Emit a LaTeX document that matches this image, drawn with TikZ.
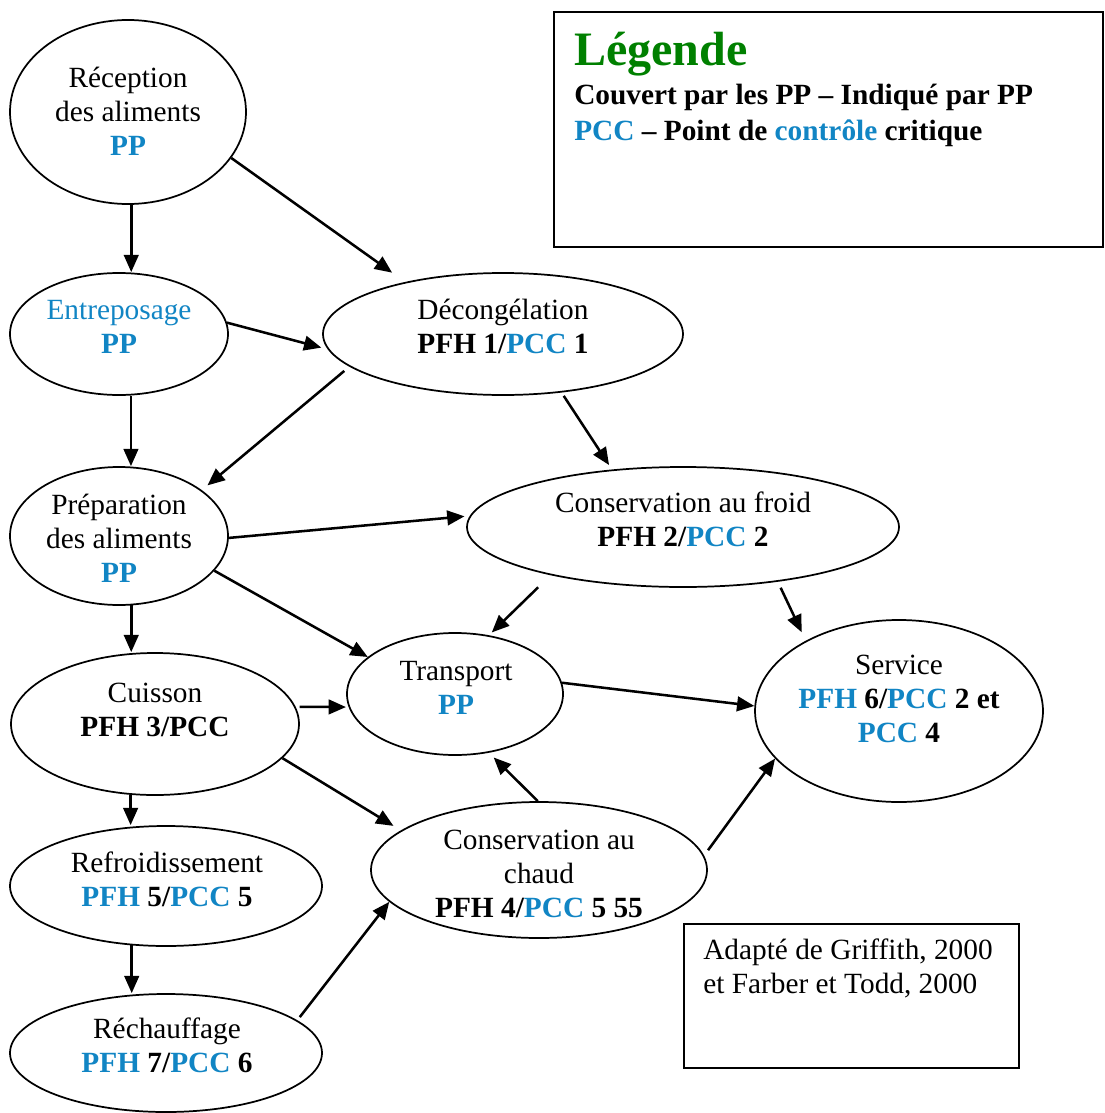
\documentclass[tikz,border=0pt]{standalone}
\usepackage{fontspec}
\setmainfont{Liberation Serif}
\usetikzlibrary{arrows.meta, shapes.geometric}
\definecolor{pcc}{RGB}{17,133,196}
\definecolor{leggreen}{RGB}{0,128,0}
\tikzset{
  ell/.style={draw, ellipse, line width=1.3pt, inner sep=0pt},
  txt/.style={align=center, font=\fontsize{22}{25.5}\selectfont, inner sep=0pt},
  arr/.style={-{Triangle[length=13pt,width=11pt]}, line width=1.9pt},
  frame/.style={draw, line width=1.5pt, inner sep=0pt, anchor=north west},
  legtxt/.style={anchor=base west, inner sep=0pt, font=\fontsize{22}{25.5}\selectfont\bfseries}
}
\begin{document}
\begin{tikzpicture}[x=0.75pt, y=-0.75pt]
\useasboundingbox (0,0) rectangle (1104,1113);

% ellipses
\node[ell, minimum width=177pt,   minimum height=138pt]  (rec)   at (128,112)  {};
\node[ell, minimum width=163.5pt, minimum height=91.5pt] (ent)   at (119,334)  {};
\node[ell, minimum width=270pt,   minimum height=91.5pt] (dec)   at (503,334)  {};
\node[ell, minimum width=163.5pt, minimum height=103.5pt](prep)  at (119,536)  {};
\node[ell, minimum width=324pt,   minimum height=90pt]   (froid) at (683,527)  {};
\node[ell, minimum width=162pt,   minimum height=91.5pt] (trans) at (455,694)  {};
\node[ell, minimum width=216pt,   minimum height=106.5pt](cuis)  at (155,724)  {};
\node[ell, minimum width=216pt,   minimum height=136.5pt](serv)  at (899,711)  {};
\node[ell, minimum width=234pt,   minimum height=90pt]   (refr)  at (166,886)  {};
\node[ell, minimum width=252pt,   minimum height=102pt]  (chaud) at (539,870)  {};
\node[ell, minimum width=234pt,   minimum height=88.5pt] (rech)  at (166,1053) {};

% texts
\node[txt] (recT)   at (128,111.5) {Réception\\des aliments\\\textbf{\textcolor{pcc}{PP}}};
\node[txt] (entT)   at (119,326.5) {\textcolor{pcc}{Entreposage}\\\textbf{\textcolor{pcc}{PP}}};
\node[txt] (decT)   at (503,326.5) {Décongélation\\\textbf{PFH 1/\textcolor{pcc}{PCC} 1}};
\node[txt] (prepT)  at (119,538)   {Préparation\\des aliments\\\textbf{\textcolor{pcc}{PP}}};
\node[txt] (froidT) at (683,519.5) {Conservation au froid\\\textbf{PFH 2/\textcolor{pcc}{PCC} 2}};
\node[txt] (transT) at (456,687.5) {Transport\\\textbf{\textcolor{pcc}{PP}}};
\node[txt] (cuisT)  at (155,709.5) {Cuisson\\\textbf{PFH 3/PCC}};
\node[txt] (servT)  at (899,699)   {Service\\\textbf{\textcolor{pcc}{PFH} 6/\textcolor{pcc}{PCC} 2 et}\\\textbf{\textcolor{pcc}{PCC} 4}};
\node[txt] (refrT)  at (167,879.5) {Refroidissement\\\textbf{\textcolor{pcc}{PFH} 5/\textcolor{pcc}{PCC} 5}};
\node[txt] (chaudT) at (539,874)   {Conservation au\\chaud\\\textbf{PFH 4/\textcolor{pcc}{PCC} 5 55}};
\node[txt] (rechT)  at (167,1045.5){Réchauffage\\\textbf{\textcolor{pcc}{PFH} 7/\textcolor{pcc}{PCC} 6}};

% arrows
\draw[arr] (rec.272) -- (rec.272 |- ent.north);
\draw[arr, shorten >=12pt] (rec.336) -- (dec.152);
\draw[arr, shorten >=5pt] (ent.6) -- (dec.185);
\draw[arr] (ent.281) -- (ent.281 |- prep.north);
\draw[arr, shorten <=5pt, shorten >=5.5pt] (dec.192) -- (prep.29);
\draw[arr, shorten <=3pt, shorten >=4pt] (dec.315) -- (froid.141);
\draw[arr, shorten >=4pt] (prep.359) -- (froid.177);
\draw[arr] (prep.340) -- (trans.157);
\draw[arr] (prep.280) -- (prep.280 |- cuis.north);
\draw[arr, shorten <=13pt, shorten >=3pt] (froid.200) -- (trans.60);
\draw[arr, shorten <=5pt, shorten >=7pt] (froid.330) -- (serv.143);
\draw[arr, shorten <=3pt, shorten >=2pt] (cuis.7) -- (trans.187);
\draw[arr] (trans.6) -- (serv.178);
\draw[arr] (cuis.251) -- (cuis.251 |- refr.north);
\draw[arr, shorten >=6.5pt] (cuis.345) -- (chaud.164);
\draw[arr, shorten >=5pt] (chaud.91) -- (trans.300);
\draw[arr, shorten <=5pt] (chaud.5) -- (serv.201);
\draw[arr] (refr.240) -- (refr.240 |- rech.north);
\draw[arr, shorten <=3pt] (rech.14) -- (chaud.192);

% legend
\node[frame, minimum width=411.75pt, minimum height=176.25pt] (legbox) at (553,11) {};
\node[anchor=base west, inner sep=0pt, font=\fontsize{36}{40}\selectfont\bfseries, text=leggreen] (legT) at (574,65) {Légende};
\node[legtxt] (leg1) at (574,104) {Couvert par les PP – Indiqué par PP};
\node[legtxt] (leg2) at (574,140) {\textcolor{pcc}{PCC} – Point de \textcolor{pcc}{contrôle} critique};

% source box
\node[frame, minimum width=251.25pt, minimum height=108pt] (srcbox) at (683,923) {};
\node[anchor=north west, inner sep=0pt, align=left, font=\fontsize{22}{25}\selectfont] (srcT) at (703,939) {Adapté de Griffith, 2000\\et Farber et Todd, 2000};
\end{tikzpicture}
\end{document}
